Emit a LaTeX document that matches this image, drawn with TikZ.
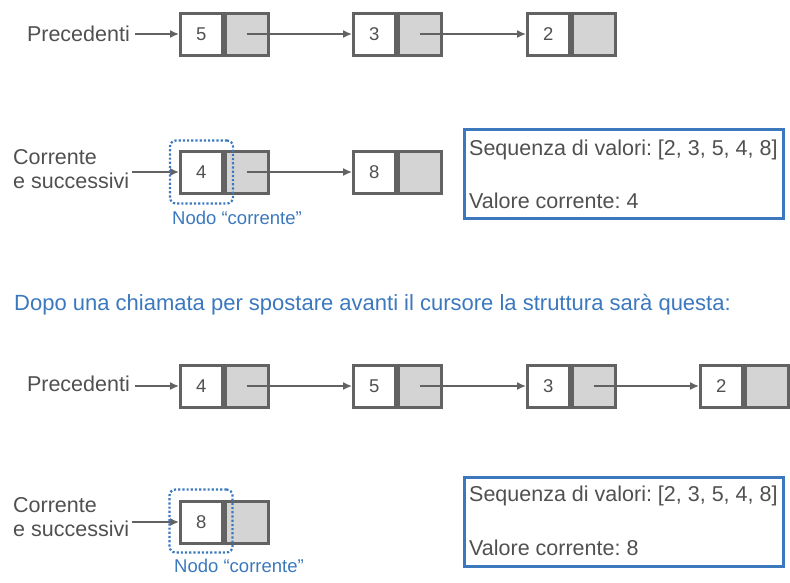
\documentclass[tikz,border=0pt]{standalone}
\usepackage{fontspec}
\setmainfont{Liberation Sans}
\usetikzlibrary{arrows.meta}
\definecolor{edge}{HTML}{626262}
\definecolor{ptrfill}{HTML}{D4D4D4}
\definecolor{txt}{HTML}{505050}
\definecolor{blu}{HTML}{3B78BE}
\tikzset{
  valcell/.style={draw=edge, line width=3pt, fill=white, minimum width=41.5pt, minimum height=42pt, inner sep=0pt, text=txt, font=\fontsize{18.5}{20}\selectfont},
  ptrcell/.style={draw=edge, line width=3pt, fill=ptrfill, minimum width=43pt, minimum height=42pt, inner sep=0pt, anchor=west},
  link/.style={draw=edge, line width=1.5pt, -{Latex[length=9pt,width=8pt]}},
  lbl/.style={text=txt, font=\fontsize{21.5}{24}\selectfont, inner sep=0pt},
  curbox/.style={draw=blu, line width=2.2pt, dotted, rounded corners=6pt, minimum width=63pt, minimum height=63pt},
  curlbl/.style={text=blu, font=\fontsize{18.5}{20}\selectfont, inner sep=0pt},
  infobox/.style={draw=blu, line width=2.5pt, minimum width=319pt, minimum height=89pt},
  infotxt/.style={text=txt, font=\fontsize{21.5}{24}\selectfont, inner sep=0pt, anchor=west},
}
\begin{document}
\frenchspacing
\begin{tikzpicture}[x=1pt,y=-1pt]
\useasboundingbox (0,0) rectangle (790,582);
% ---------- Row 1: Precedenti ----------
\node[lbl, anchor=east] (p1) at (130,34) {Precedenti};
\node[valcell] (a1) at (201.25,34) {5};
\node[ptrcell] (a1p) at (a1.east) {};
\node[valcell] (b1) at (374.25,34) {3};
\node[ptrcell] (b1p) at (b1.east) {};
\node[valcell] (c1) at (548.25,34) {2};
\node[ptrcell] (c1p) at (c1.east) {};
\draw[link] (a1.west -| p1.east) ++(5,0) coordinate (p1s) -- (a1.west);
\draw[link] (a1p.center) -- (b1.west);
\draw[link] (b1p.center) -- (c1.west);
% ---------- Row 2: Corrente ----------
\node[lbl, anchor=west, align=left] (q2) at (13,169) {Corrente\\e successivi};
\node[valcell] (a2) at (201.25,172) {4};
\node[ptrcell] (a2p) at (a2.east) {};
\node[valcell] (b2) at (374.25,172) {8};
\node[ptrcell] (b2p) at (b2.east) {};
\draw[link] (a2.west -| q2.east) ++(3,0) coordinate (q2s) -- (a2.west);
\draw[link] (a2p.center) -- (b2.west);
\node[curbox] (cur2) at (201.5,172) {};
\node[curlbl] (cl2) at (237,218) {Nodo “corrente”};
\node[infobox] (info2) at (624,174) {};
\node[infotxt] (s2) at (469,150) {Sequenza di valori: [2, 3, 5, 4, 8]};
\node[infotxt] (v2) at (469,201) {Valore corrente: 4};
% ---------- Message ----------
\node[text=blu, font=\fontsize{22}{24}\selectfont, inner sep=0pt, anchor=west] (msg) at (14,305) {Dopo una chiamata per spostare avanti il cursore la struttura sarà questa:};
% ---------- Row 3: Precedenti ----------
\node[lbl, anchor=east] (p3) at (130,384) {Precedenti};
\node[valcell] (a3) at (201.25,386) {4};
\node[ptrcell] (a3p) at (a3.east) {};
\node[valcell] (b3) at (374.25,386) {5};
\node[ptrcell] (b3p) at (b3.east) {};
\node[valcell] (c3) at (548.25,386) {3};
\node[ptrcell] (c3p) at (c3.east) {};
\node[valcell] (d3) at (721.25,386) {2};
\node[ptrcell] (d3p) at (d3.east) {};
\draw[link] (a3.west -| p3.east) ++(5,0) coordinate (p3s) -- (a3.west);
\draw[link] (a3p.center) -- (b3.west);
\draw[link] (b3p.center) -- (c3.west);
\draw[link] (c3p.center) -- (d3.west);
% ---------- Row 4: Corrente ----------
\node[lbl, anchor=west, align=left] (q4) at (13,517) {Corrente\\e successivi};
\node[valcell] (a4) at (201.25,522) {8};
\node[ptrcell] (a4p) at (a4.east) {};
\draw[link] (a4.west -| q4.east) ++(3,0) coordinate (q4s) -- (a4.west);
\node[curbox] (cur4) at (201,521) {};
\node[curlbl] (cl4) at (239,566) {Nodo “corrente”};
\node[infobox] (info4) at (624,522) {};
\node[infotxt] (s4) at (469,496) {Sequenza di valori: [2, 3, 5, 4, 8]};
\node[infotxt] (v4) at (469,548) {Valore corrente: 8};
\end{tikzpicture}
\end{document}
